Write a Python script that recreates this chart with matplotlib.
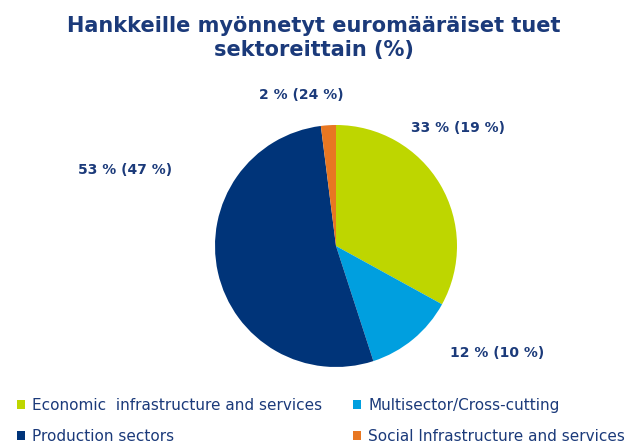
import matplotlib.pyplot as plt
from matplotlib.patches import Patch

# data
sectors = ['Economic  infrastructure and services', 'Multisector/Cross-cutting',
           'Production sectors', 'Social Infrastructure and services']
shares = [33, 12, 53, 2]
labels = ['33 % (19 %)', '12 % (10 %)', '53 % (47 %)', '2 % (24 %)']
colors = ['#BED600', '#009FDF', '#003479', '#E87722']
navy = '#1B3A7A'

W, H = 628, 446
fig = plt.figure(figsize=(W / 100, H / 100), dpi=100)

# pie axes: centre (336, 246) px, radius 121 px
cx, cy, r = 336, 246, 121
ax = fig.add_axes([(cx - r) / W, (H - cy - r) / H, 2 * r / W, 2 * r / H])
wedges, _ = ax.pie(shares, colors=colors, startangle=90, counterclock=False,
                   radius=1, wedgeprops=dict(linewidth=0))
ax.set_xlim(-1, 1)
ax.set_ylim(-1, 1)
ax.set_aspect('equal')
ax.axis('off')

# slice labels (pixel positions of the text centres)
label_pos = [(458, 128), (497, 353), (125, 170), (301, 95)]
for txt, (x, y) in zip(labels, label_pos):
    fig.text(x / W, 1 - y / H, txt, ha='center', va='center', fontsize=10,
             fontweight='bold', color=navy)

# title
fig.text(0.5, 1 - 38 / H, 'Hankkeille myönnetyt euromääräiset tuet\nsektoreittain (%)',
         ha='center', va='center', fontsize=15, fontweight='bold', color=navy,
         linespacing=1.3)

# legend (column-wise order)
order = [0, 2, 1, 3]
handles = [Patch(facecolor=colors[i], edgecolor='none') for i in order]
fig.legend(handles, [sectors[i] for i in order], ncol=2, loc='upper left',
           bbox_to_anchor=(0.015, 1 - 390 / H), frameon=False, fontsize=11,
           handlelength=0.55, handleheight=0.55, handletextpad=0.45,
           columnspacing=2.0, labelspacing=1.05, labelcolor=navy, borderpad=0)

fig.savefig('out.png', dpi=100)
